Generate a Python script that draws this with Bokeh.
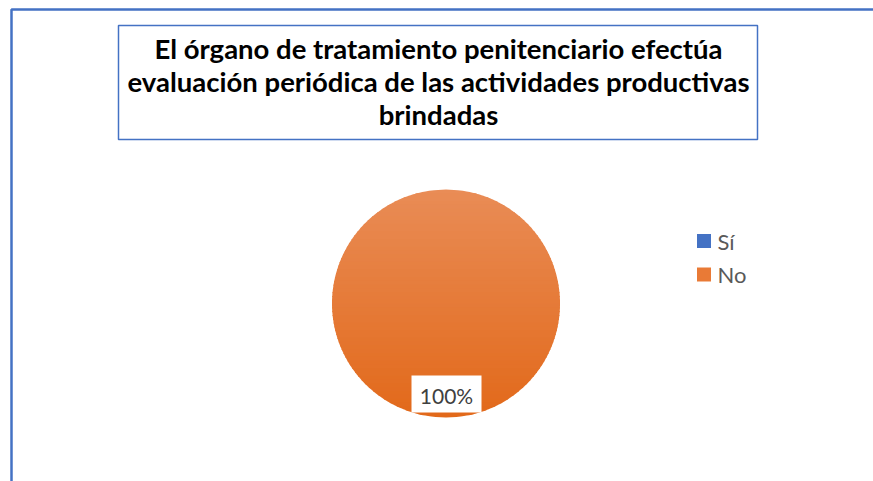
import math
from bokeh.plotting import figure
from bokeh.models import Range1d
from bokeh.core.properties import value
from bokeh.embed import file_html
from bokeh.resources import INLINE

# ---- data ----
categories = ["Sí", "No"]
counts = [0, 100]
colors = ["#4472C4", "#E97A36"]
grad_top = (233, 140, 86)
grad_bottom = (226, 105, 26)
title_lines = [
    "El órgano de tratamiento penitenciario efectúa",
    "evaluación periódica de las actividades productivas",
    "brindadas",
]

W, H = 873, 481
p = figure(width=W, height=H, output_backend="svg", toolbar_location=None,
           x_range=Range1d(0, W), y_range=Range1d(H, 0),
           min_border=0, outline_line_color=None)
p.axis.visible = False
p.grid.visible = False
p.background_fill_color = "white"
p.border_fill_color = "white"

# outer chart frame (left + top visible)
p.line(x=[11, 11, W + 5], y=[H + 5, 9, 9], line_color="#4472C4", line_width=2.5)

# title box
p.rect(x=[(118 + 757) / 2], y=[(25 + 139) / 2], width=[639], height=[114],
       fill_color="white", line_color="#4472C4", line_width=1.5)
p.text(x=[438] * 3, y=[48, 81, 114], text=title_lines,
       text_font=value("Lato"), text_font_style="bold", text_font_size="27.5px",
       text_color="#000000", text_align="center", text_baseline="middle")

# pie
total = sum(counts)
cx, cy, r = 445.5, 303, 114
acc = 0.0
for i, c in enumerate(counts):
    a0 = math.pi / 2 - 2 * math.pi * acc / total
    acc += c
    a1 = math.pi / 2 - 2 * math.pi * acc / total
    if c <= 0:
        continue
    if c == total:
        # full disk, drawn with the vertical shading of the original
        n = 60
        for k in range(n):
            y0 = cy - r + 2 * r * k / n
            y1 = min(cy - r + 2 * r * (k + 1) / n + 1.2, cy + r)
            ys = [y0 + (y1 - y0) * j / 8 for j in range(9)]
            right = [cx + math.sqrt(max(r * r - (yy - cy) ** 2, 0)) for yy in ys]
            left = [cx - math.sqrt(max(r * r - (yy - cy) ** 2, 0)) for yy in ys]
            t = (k + 0.5) / n
            col = tuple(int(round(grad_top[m] + (grad_bottom[m] - grad_top[m]) * t)) for m in range(3))
            p.patch(x=right + left[::-1], y=ys + ys[::-1],
                    fill_color="#%02x%02x%02x" % col, line_color=None)
    else:
        p.wedge(x=cx, y=cy, radius=r, start_angle=a1, end_angle=a0,
                fill_color=colors[i], line_color="white")

# data label
for i in range(len(categories)):
    if counts[i] > 0:
        lbl = f"{round(100 * counts[i] / total)}%"
        p.rect(x=[446], y=[393.5], width=[70], height=[37], fill_color="white", line_color=None)
        p.text(x=[446], y=[395], text=[lbl], text_font=value("Lato"), text_font_size="21px",
               text_color="#404040", text_align="center", text_baseline="middle")

# legend
ly = [240.5, 274]
p.rect(x=[703.5] * 2, y=ly, width=[14] * 2, height=[14] * 2, fill_color=colors, line_color=None)
p.text(x=[717] * 2, y=ly, text=categories, text_font=value("Lato"),
       text_font_size="22px", text_color="#595959", text_align="left", text_baseline="middle")

open("out.html", "w").write(file_html(p, INLINE))
